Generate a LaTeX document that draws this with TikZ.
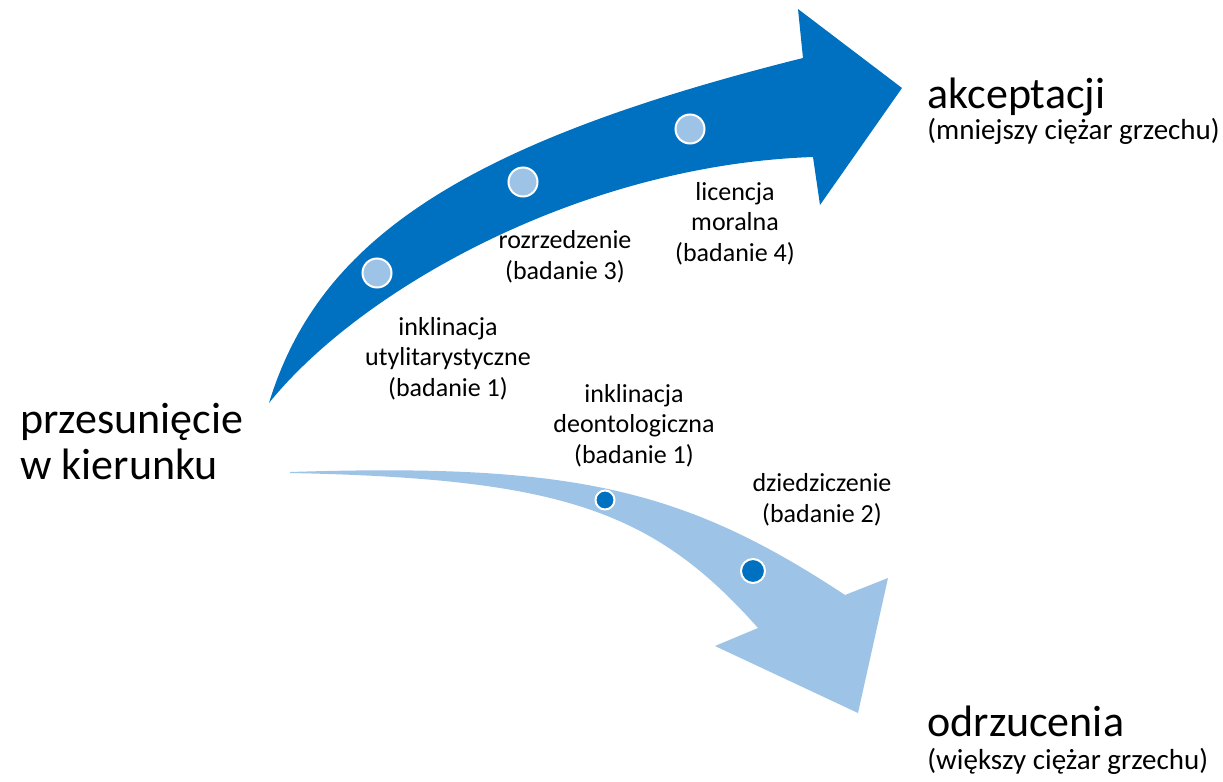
\documentclass[tikz,border=0pt]{standalone}
\usepackage{fontspec}
\setmainfont{Carlito}
\definecolor{dblue}{RGB}{0,112,192}
\definecolor{lblue}{RGB}{157,195,230}
\begin{document}
\begin{tikzpicture}[x=0.5pt,y=-0.5pt,
  lbl/.style={font=\fontsize{13}{15.25}\selectfont, align=center, anchor=base, inner sep=0pt},
  big/.style={font=\fontsize{22}{23}\selectfont, align=left, anchor=base west, inner sep=0pt},
  sub/.style={font=\fontsize{14.5}{17}\selectfont, anchor=base west, inner sep=0pt},
  dotA/.style={circle, fill=lblue, draw=white, line width=1pt, minimum size=14.5pt, inner sep=0pt},
  dotB/.style={circle, fill=dblue, draw=white, line width=1pt, inner sep=0pt}]
\useasboundingbox (0,0) rectangle (1223,782);
% upper (dark) arrow
\fill[dblue] (269,403) .. controls (318.5,241) and (461,143.5) .. (803,58)
  -- (798,9) -- (902,88) -- (820,205) -- (813,157)
  .. controls (580,165) and (360,290) .. (269,403) -- cycle;
% lower (light) arrow
\fill[lblue] (290,472) .. controls (572,463) and (683,488) .. (845,595)
  -- (888,578) -- (858,713) -- (715,646) -- (758,628)
  .. controls (653,509.5) and (559.6,478.5) .. (290,473) -- cycle;
% dots
\node[dotA] (c1) at (377,273) {};
\node[dotA] (c2) at (523,182) {};
\node[dotA] (c3) at (690,129) {};
\node[dotB, minimum size=9.5pt] (d1) at (605,500) {};
\node[dotB, minimum size=12pt] (d2) at (753,571) {};
% texts (base anchor = baseline of last line)
\node[big] (shift) at (20,479) {przesunięcie\\w kierunku};
\node[big] (acc) at (927,108) {akceptacji};
\node[sub] (accs) at (927,139) {(mniejszy ciężar grzechu)};
\node[big] (rej) at (927,736) {odrzucenia};
\node[sub] (rejs) at (927,769) {(większy ciężar grzechu)};
\node[lbl] (l1) at (448,396) {inklinacja\\utylitarystyczne\\(badanie 1)};
\node[lbl] (l3) at (565,279) {rozrzedzenie\\(badanie 3)};
\node[lbl] (l4) at (735,261) {licencja\\moralna\\(badanie 4)};
\node[lbl] (l1b) at (634,463) {inklinacja\\deontologiczna\\(badanie 1)};
\node[lbl] (l2) at (822,522) {dziedziczenie\\(badanie 2)};
\end{tikzpicture}
\end{document}
